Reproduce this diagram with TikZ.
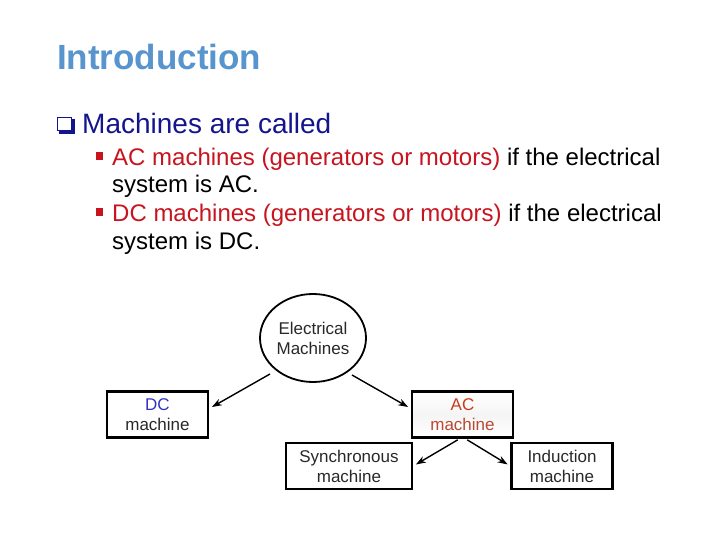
\documentclass[tikz,border=0pt]{standalone}
\usepackage{fontspec}
\setmainfont{Liberation Sans}
\usetikzlibrary{shapes.geometric,arrows.meta}
\definecolor{titleblue}{RGB}{88,148,205}
\definecolor{navy}{RGB}{20,20,140}
\definecolor{bulletred}{RGB}{200,20,30}
\definecolor{dcblue}{RGB}{50,50,200}
\definecolor{acred}{RGB}{200,60,30}
\definecolor{txtgray}{RGB}{40,40,40}
\tikzset{
  box/.style={draw=black, line width=2.6pt, minimum width=101pt, minimum height=46pt, align=center, font=\fontsize{17}{20}\selectfont, text=txtgray, inner sep=0pt},
  conn/.style={-{Stealth[length=10pt,width=7pt]}, line width=1.4pt, shorten >=3pt},
  body/.style={anchor=base west, inner sep=0pt, font=\fontsize{24}{24}\selectfont}
}
\begin{document}
\begin{tikzpicture}[x=1pt,y=-1pt]
\useasboundingbox (0,0) rectangle (720,540);
% title
\node[anchor=base west, inner sep=0pt, text=titleblue, font=\fontsize{35}{35}\selectfont\bfseries] (title) at (57,70) {Introduction};
% q bullet
\fill[navy] (59,119) rectangle (75,134);
\fill[white] (57,117) rectangle (72,131);
\draw[navy, line width=1.4pt] (57.7,117.7) rectangle (71.3,130.3);
\node[anchor=base west, inner sep=0pt, text=navy, font=\fontsize{28}{28}\selectfont] (l0) at (82,134) {Machines are called};
% sub bullets
\fill[bulletred] (96,152) rectangle (103,160);
\node[body] (l1) at (112,166) {\textcolor{bulletred}{AC machines (generators or motors)} if the electrical};
\node[body] (l2) at (112,193) {system is AC.};
\fill[bulletred] (96,208) rectangle (103,216);
\node[body] (l3) at (112,222) {\textcolor{bulletred}{DC machines (generators or motors)} if the electrical};
\node[body] (l4) at (112,249) {system is DC.};
% diagram
\node[ellipse, draw=black, line width=1.8pt, minimum width=106pt, minimum height=88pt, inner sep=0pt, align=center, font=\fontsize{17}{20}\selectfont, text=txtgray] (em) at (313,338) {Electrical\\Machines};
\node[box] (dc) at (157.5,414.5) {\textcolor{dcblue}{DC}\\machine};
\node[box, top color=white, bottom color=white, middle color=gray!8] (ac) at (462.5,414.5) {\textcolor{acred}{AC}\\\textcolor{acred!80!gray}{machine}};
\node[box, minimum width=126pt] (sy) at (349,466) {Synchronous\\machine};
\node[box] (in) at (562,466) {Induction\\machine};
\coordinate (emL) at (270,374);
\coordinate (emR) at (352,375);
\draw[conn] (emL) -- ([yshift=6pt]dc.east);
\draw[conn] (emR) -- ([yshift=6pt]ac.west);
\draw[conn, shorten <=2pt] ([xshift=-3pt]ac.south) -- (sy.east);
\draw[conn, shorten <=2pt] ([xshift=3pt]ac.south) -- (in.west);
\end{tikzpicture}
\end{document}
